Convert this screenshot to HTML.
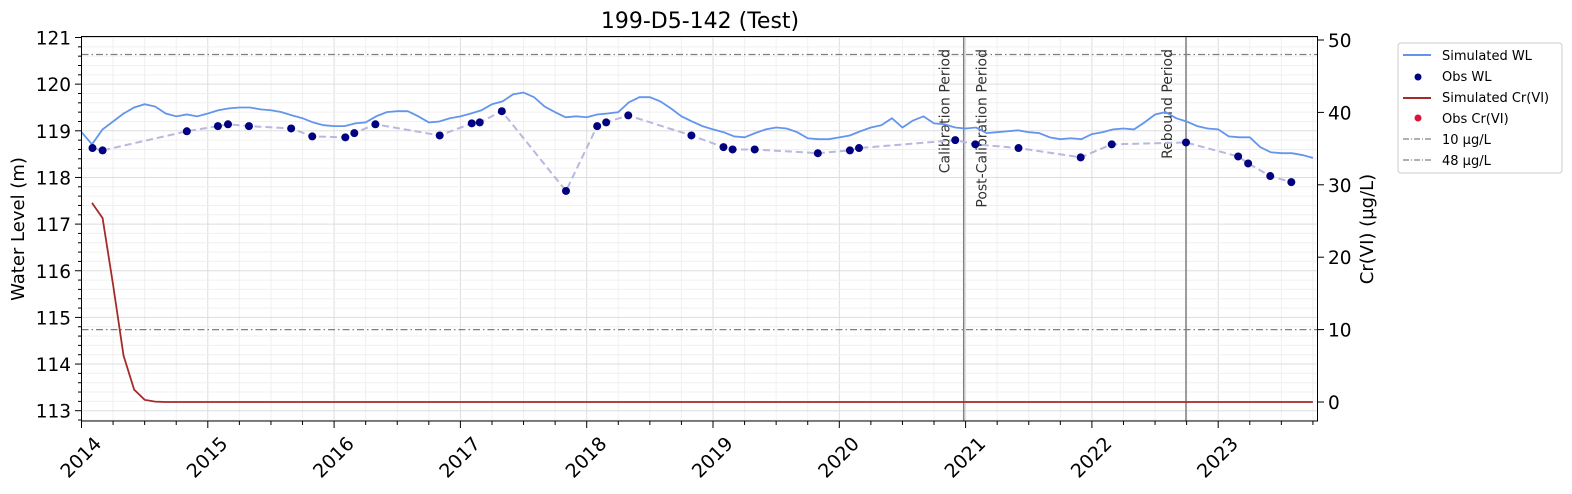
<!DOCTYPE html>
<html><head><meta charset="utf-8"><style>
body{margin:0;background:#fff;}
svg text{font-family:"DejaVu Sans","Liberation Sans",sans-serif;}
</style></head><body>
<svg id="chart" width="1572" height="489" viewBox="0 0 1572 489" xmlns="http://www.w3.org/2000/svg">
<g id="grid"></g>
<g id="marks"></g>
<rect x="81.5" y="36.5" width="1236" height="384.5" fill="none" stroke="#000" stroke-width="1"/>
<g id="axes"></g>
<text x="700" y="28" font-size="22" text-anchor="middle">199-D5-142 (Test)</text>
<text transform="translate(24,229) rotate(-90)" font-size="18" text-anchor="middle">Water Level (m)</text>
<text transform="translate(1373,229) rotate(-90)" font-size="18" text-anchor="middle">Cr(VI) (µg/L)</text>
<g>
<rect x="1398" y="43" width="164" height="130" rx="3" fill="#fff" stroke="#ccc"/>
<line x1="1403" y1="55" x2="1431" y2="55" stroke="#6495ed" stroke-width="2"/>
<text x="1442" y="60" font-size="13">Simulated WL</text>
<circle cx="1418" cy="77" r="3.5" fill="#000080"/>
<text x="1442" y="81" font-size="13">Obs WL</text>
<line x1="1403" y1="98" x2="1431" y2="98" stroke="#a52a2a" stroke-width="2"/>
<text x="1442" y="102" font-size="13">Simulated Cr(VI)</text>
<circle cx="1418" cy="118" r="3.5" fill="#dc143c"/>
<text x="1442" y="123" font-size="13">Obs Cr(VI)</text>
<line x1="1403" y1="139" x2="1431" y2="139" stroke="#808080" stroke-width="1.2" stroke-dasharray="6,2,1,2"/>
<text x="1442" y="144" font-size="13">10 µg/L</text>
<line x1="1403" y1="160" x2="1431" y2="160" stroke="#808080" stroke-width="1.2" stroke-dasharray="6,2,1,2"/>
<text x="1442" y="165" font-size="13">48 µg/L</text>
</g>
</svg>
<script>
const simWL=[118.97,118.71,119.03,119.20,119.37,119.50,119.57,119.52,119.37,119.31,119.35,119.31,119.37,119.44,119.48,119.50,119.50,119.46,119.44,119.40,119.33,119.27,119.18,119.12,119.10,119.10,119.16,119.18,119.31,119.40,119.42,119.42,119.31,119.18,119.20,119.27,119.31,119.37,119.44,119.57,119.63,119.78,119.82,119.72,119.52,119.40,119.29,119.31,119.29,119.35,119.37,119.40,119.61,119.72,119.72,119.63,119.48,119.31,119.20,119.10,119.03,118.97,118.88,118.86,118.95,119.03,119.07,119.05,118.97,118.84,118.82,118.82,118.86,118.90,118.99,119.07,119.12,119.27,119.07,119.22,119.31,119.16,119.14,119.07,119.05,119.07,118.95,118.97,118.99,119.01,118.97,118.95,118.86,118.82,118.84,118.82,118.93,118.97,119.03,119.05,119.03,119.18,119.35,119.40,119.27,119.20,119.10,119.05,119.03,118.88,118.86,118.86,118.65,118.54,118.52,118.52,118.48,118.42];
const simStartYear=2014.0;
const obsDates=[2014.087,2014.167,2014.834,2015.080,2015.160,2015.326,2015.660,2015.827,2016.089,2016.160,2016.327,2016.836,2017.090,2017.153,2017.328,2017.836,2018.083,2018.154,2018.329,2018.829,2019.083,2019.155,2019.330,2019.830,2020.084,2020.156,2020.918,2021.077,2021.419,2021.911,2022.157,2022.745,2023.158,2023.237,2023.412,2023.579];
const obsWL=[118.63,118.58,118.99,119.10,119.14,119.10,119.05,118.88,118.86,118.95,119.14,118.90,119.16,119.18,119.42,117.71,119.10,119.18,119.33,118.90,118.65,118.60,118.60,118.52,118.58,118.63,118.80,118.71,118.63,118.43,118.71,118.75,118.45,118.30,118.03,117.90];
const crDates=[2014.083,2014.167,2014.25,2014.333,2014.417,2014.5,2014.583,2014.667,2023.75];
const crVals=[27.5,25.4,16.2,6.4,1.7,0.3,0.05,0,0];
const thresholds=[10,48];
const periodDates=[2020.985,2022.745];
const yTicks=[113,114,115,116,117,118,119,120,121];
const y2Ticks=[0,10,20,30,40,50];
const xTicks=[2014,2015,2016,2017,2018,2019,2020,2021,2022,2023];

const NS='http://www.w3.org/2000/svg';
const X=t=>81.5+(t-2014)*126.3;
const Y=v=>37.5+(121-v)*46.65;
const Y2=v=>402-v*7.24;
function mk(parent,tag,attrs){const e=document.createElementNS(NS,tag);for(const k in attrs)e.setAttribute(k,attrs[k]);parent.appendChild(e);return e;}
const grid=document.getElementById('grid'),marks=document.getElementById('marks'),axes=document.getElementById('axes');
for(let t=2014;t<=2023.8;t+=0.25){const g=mk(grid,'line',{x1:X(t),x2:X(t),y1:36.5,y2:421,stroke:Math.abs(t-Math.round(t))<1e-6?'#ddd':'#f0f0f0','stroke-width':1});
}
for(let v=112.8;v<=121.2;v+=0.2){const y=Y(v);if(y<36.5||y>421)continue;const maj=Math.abs(v-Math.round(v))<1e-6;const g=mk(grid,'line',{x1:81.5,x2:1317.5,y1:y,y2:y,stroke:maj?'#ddd':'#f0f0f0','stroke-width':1});

const tk=mk(axes,'line',{x1:81.5,x2:maj?75:78,y1:y,y2:y,stroke:'#000'});}
yTicks.forEach(v=>{const t=mk(axes,'text',{x:71,y:Y(v)+7,'font-size':18.5,'text-anchor':'end'});t.textContent=v;
});
y2Ticks.forEach(v=>{const y=Y2(v);const tk=mk(axes,'line',{x1:1317.5,x2:1324,y1:y,y2:y,stroke:'#000'});
const t=mk(axes,'text',{x:1328,y:y+7,'font-size':18.5});t.textContent=v;});
for(let t=2014;t<=2023.8;t+=0.25){const maj=Math.abs(t-Math.round(t))<1e-6;const tk=mk(axes,'line',{x1:X(t),x2:X(t),y1:421,y2:maj?428:425,stroke:'#000'});
}
xTicks.forEach(t=>{const x=X(t);const l=mk(axes,'text',{transform:`translate(${x-1},457) rotate(-45)`,y:7,'font-size':19,'text-anchor':'middle'});l.textContent=t;
});
thresholds.forEach(v=>{const l=mk(marks,'line',{x1:81.5,x2:1317.5,y1:Y2(v),y2:Y2(v),stroke:'#808080','stroke-width':1.2,'stroke-dasharray':'7,3,1.5,3'});
});
const labels=['Calibration Period','Rebound Period'];
periodDates.forEach((d,i)=>{const x=X(d);const l=mk(marks,'line',{x1:x,x2:x,y1:36.5,y2:421,stroke:'#808080','stroke-width':1.5});

const t=mk(marks,'text',{transform:`translate(${x-14},49) rotate(-90)`,'font-size':14,'text-anchor':'end',fill:'#333'});t.textContent=labels[i];

if(i===0){const t2=mk(marks,'text',{transform:`translate(${x+23},49) rotate(-90)`,'font-size':14,'text-anchor':'end',fill:'#333'});t2.textContent='Post-Calibration Period';
}});
const od=mk(marks,'path',{d:obsDates.map((t,i)=>(i?'L':'M')+X(t)+' '+Y(obsWL[i])).join(''),fill:'none',stroke:'#b8b8e0','stroke-width':2,'stroke-dasharray':'7,4'});

const sp=mk(marks,'path',{d:simWL.map((v,i)=>(i?'L':'M')+X(simStartYear+i/12)+' '+Y(v)).join(''),fill:'none',stroke:'#6495ed','stroke-width':1.8});

const cp=mk(marks,'path',{d:crDates.map((t,i)=>(i?'L':'M')+X(t)+' '+Y2(crVals[i])).join(''),fill:'none',stroke:'#a52a2a','stroke-width':1.8});

obsDates.forEach((t,i)=>{const c=mk(marks,'circle',{cx:X(t),cy:Y(obsWL[i]),r:4,fill:'#000080'});
});
</script>
</body></html>
